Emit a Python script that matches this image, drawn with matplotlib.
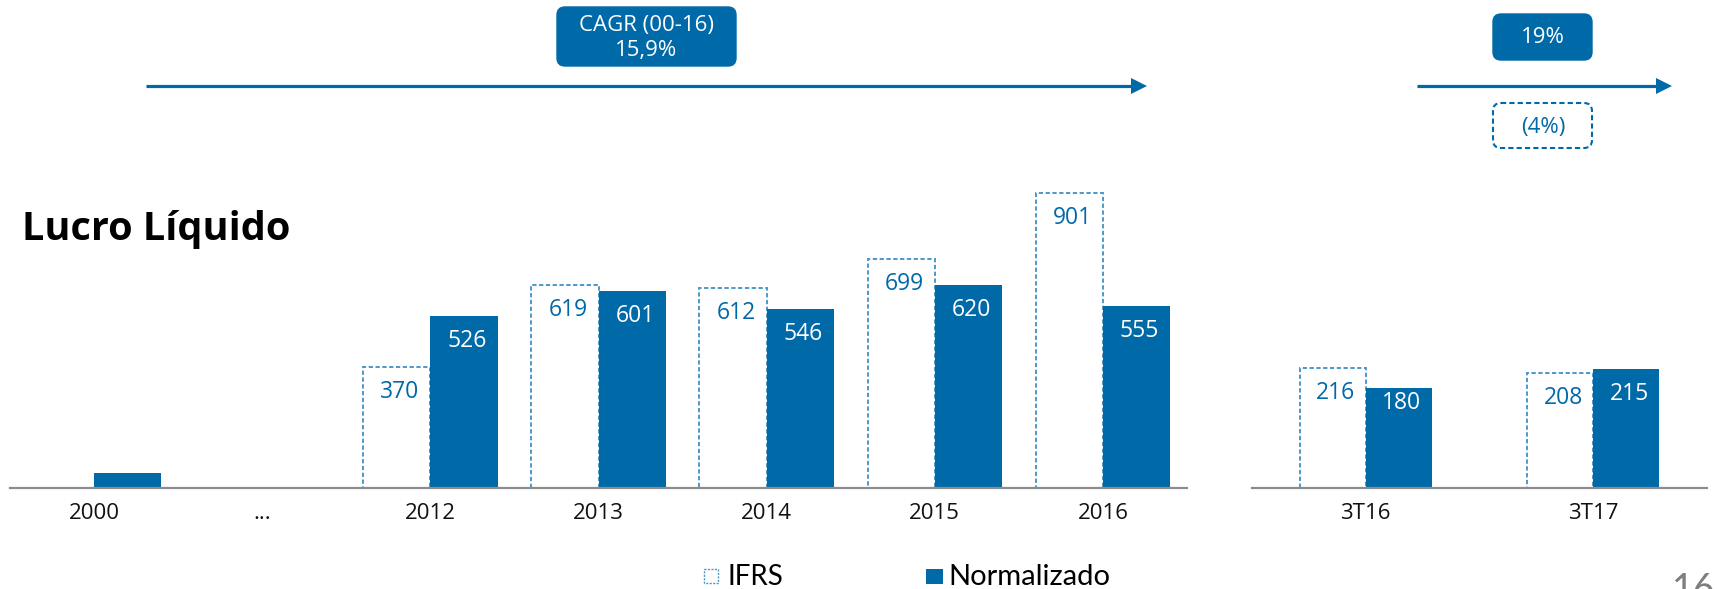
import numpy as np
import matplotlib
matplotlib.use('Agg')
import matplotlib.pyplot as plt
from matplotlib.patches import FancyBboxPatch, Rectangle, Polygon

plt.rcParams['font.family'] = ['Open Sans', 'DejaVu Sans']

# ---------------- data ----------------
years = ['2000', '...', '2012', '2013', '2014', '2015', '2016']
ifrs_years = [None, None, 370, 619, 612, 699, 901]
norm_years = [45, None, 526, 601, 546, 620, 555]

quarters = ['3T16', '3T17']
ifrs_q = [216, 208]
norm_q = [180, 215]

title = 'Lucro Líquido'
cagr_text = 'CAGR (00-16)\n15,9%'
q_growth_norm = '19%'
q_growth_ifrs = '(4%)'
legend_labels = ['IFRS', 'Normalizado']
page_number = '16'

# ---------------- style ----------------
W, H, DPI = 1717, 589, 100
BLUE = '#0069a8'
DASH = '#4d98c9'
GRAY = '#8c8c8c'
TXT = '#111111'

fig = plt.figure(figsize=(W / DPI, H / DPI), dpi=DPI)


def px_axes(x0, x1, ytop, ybot, **kw):
    return fig.add_axes([x0 / W, 1 - ybot / H, (x1 - x0) / W, (ybot - ytop) / H], **kw)


BASE, TOP = 487.5, 150.0


def draw_panel(ax, cats, ifrs, norm, width, px_per_unit, drops):
    x = np.arange(len(cats))
    ax.set_ylim(0, (BASE - TOP) / px_per_unit)
    ax.set_xlim(-0.5, len(cats) - 0.5)
    for i in range(len(cats)):
        a, b = ifrs[i], norm[i]
        if a is not None:
            ax.bar(x[i] - width / 2, a, width, facecolor='white', edgecolor=DASH,
                   linestyle=(0, (2.2, 1.3)), linewidth=1.4, zorder=1)
            ax.annotate(str(a), (x[i] - width / 2, a), xytext=(3, -drops.get((i, 'i'), 25)),
                        textcoords='offset pixels', ha='center', va='center',
                        color=BLUE, fontsize=16.5)
        if b is not None:
            ax.bar(x[i] + width / 2, b, width, facecolor=BLUE, edgecolor='none', zorder=2)
            if a is not None:
                ax.annotate(str(b), (x[i] + width / 2, b), xytext=(3, -drops.get((i, 'n'), 25)),
                            textcoords='offset pixels', ha='center', va='center',
                            color='white', fontsize=16.5, zorder=3)
    for s in ['top', 'left', 'right']:
        ax.spines[s].set_visible(False)
    ax.spines['bottom'].set_color(GRAY)
    ax.spines['bottom'].set_linewidth(1.6)
    ax.spines['bottom'].set_zorder(4)
    ax.set_yticks([])
    ax.set_xticks(x)
    ax.set_xticklabels(cats, fontsize=16, color=TXT)
    ax.tick_params(axis='x', length=0, pad=11.5)
    ax.patch.set_alpha(0)


axL = px_axes(10, 1187, TOP, BASE)
draw_panel(axL, years, ifrs_years, norm_years, 0.4, 0.3264, {})

axR = px_axes(1252, 1707, TOP, BASE)
draw_panel(axR, quarters, ifrs_q, norm_q, 0.29, 0.552, {(0, 'n'): 15})

# ---------------- overlay (pixel coordinates) ----------------
ov = fig.add_axes([0, 0, 1, 1], zorder=10)
ov.set_xlim(0, W)
ov.set_ylim(H, 0)
ov.axis('off')
ov.patch.set_alpha(0)

# title
ov.text(22, 240, title, fontsize=28.5, fontweight='bold', color='black', va='baseline', ha='left')

# arrows
def arrow(x0, x1, y):
    ov.plot([x0, x1 - 15], [y, y], color=BLUE, lw=2.3, solid_capstyle='butt')
    ov.add_patch(Polygon([(x1 - 16, y - 8), (x1, y), (x1 - 16, y + 8)], closed=True,
                         facecolor=BLUE, edgecolor='none'))

arrow(146, 1147, 86)
arrow(1417, 1672, 86)


def rbox(x0, y0, x1, y1, filled, r=8):
    if filled:
        p = FancyBboxPatch((x0 + r, y0 + r), x1 - x0 - 2 * r, y1 - y0 - 2 * r,
                           boxstyle=f'round,pad={r}', facecolor=BLUE, edgecolor=BLUE, lw=1)
    else:
        p = FancyBboxPatch((x0 + r, y0 + r), x1 - x0 - 2 * r, y1 - y0 - 2 * r,
                           boxstyle=f'round,pad={r}', facecolor='white', edgecolor=BLUE,
                           lw=1.5, linestyle=(0, (2.5, 1.5)))
    ov.add_patch(p)


rbox(557, 7, 736, 66, True)
ov.text(646.5, 38, cagr_text, color='white', fontsize=16, ha='center', va='center',
        linespacing=1.22)

rbox(1493, 14, 1592, 60, True)
ov.text(1543, 37.5, q_growth_norm, color='white', fontsize=16, ha='center', va='center')

rbox(1493, 103, 1592, 148, False)
ov.text(1543, 127, q_growth_ifrs, color=BLUE, fontsize=16, ha='center', va='center')

# legend
ov.add_patch(Rectangle((704, 569), 14, 14, facecolor='white', edgecolor=DASH, lw=1.0,
                       linestyle=(0, (1.5, 1))))
ov.text(727, 585, legend_labels[0], fontsize=20, color='black', va='baseline', ha='left',
        family=['Lato', 'DejaVu Sans'])
ov.add_patch(Rectangle((926, 569), 17, 15, facecolor=BLUE, edgecolor='none'))
ov.text(948, 585, legend_labels[1], fontsize=21, color='black', va='baseline', ha='left',
        family=['Lato', 'DejaVu Sans'])

# page number (cut at the bottom edge, as in the reference)
ov.text(1672, 572, page_number, fontsize=27, color='#7f7f7f', va='top', ha='left',
        family=['Lato', 'DejaVu Sans'])

fig.savefig('out.png', dpi=DPI)
